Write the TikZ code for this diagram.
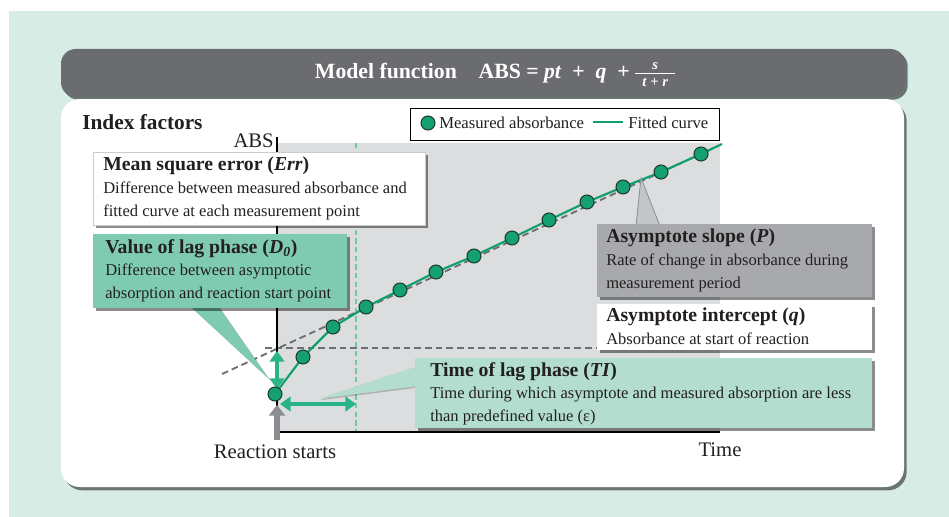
\documentclass[tikz,border=0pt]{standalone}
\usepackage{fontspec}
\setmainfont{Liberation Serif}
\usetikzlibrary{arrows.meta,shadows}
\definecolor{bgmint}{RGB}{214,236,229}
\definecolor{darkbar}{RGB}{107,108,112}
\definecolor{plotgray}{RGB}{220,221,223}
\definecolor{lagc}{RGB}{127,203,178}
\definecolor{tic}{RGB}{178,221,207}
\definecolor{slopec}{RGB}{168,169,172}
\definecolor{tailgray}{RGB}{196,197,200}
\definecolor{fitc}{RGB}{16,160,112}
\definecolor{ptfill}{RGB}{20,160,115}
\definecolor{ptedge}{RGB}{30,58,48}
\definecolor{arrc}{RGB}{40,180,135}
\definecolor{grayarr}{RGB}{140,141,145}
\definecolor{tealdash}{RGB}{110,200,170}
\definecolor{asymc}{RGB}{109,110,113}
\definecolor{txtc}{RGB}{35,31,32}
\newcommand{\bt}[1]{{\fontsize{14.8}{17}\selectfont\bfseries #1}}
\newcommand{\smallfr}[2]{\ensuremath{{\mbox{\fontsize{11}{12}\selectfont\bfseries\itshape #1}\above0.7pt\mbox{\fontsize{11}{12}\selectfont\bfseries #2}}}}
\tikzset{
  txt/.style={text=txtc, inner sep=0pt, align=left, anchor=north west, font=\fontsize{12.4}{17}\selectfont},
  cbox/.style={anchor=north west, inner sep=0pt, drop shadow={shadow xshift=2pt, shadow yshift=-2pt, fill=black, opacity=.45}},
  datapt/.style={circle, draw=ptedge, fill=ptfill, line width=0.8pt, minimum size=10.5pt, inner sep=0pt},
  fitline/.style={draw=fitc, line width=1.6pt},
  garrow/.style={draw=arrc, line width=2.4pt, {Triangle[length=8pt,width=11pt]}-{Triangle[length=8pt,width=11pt]}},
  axlabel/.style={text=txtc, inner sep=0pt, font=\fontsize{15.5}{18}\selectfont}
}
\begin{document}
\begin{tikzpicture}[x=0.75pt,y=-0.75pt]
\useasboundingbox (0,0) rectangle (949,517);
\fill[white] (0,0) rectangle (949,517);
\fill[bgmint] (9,11) rectangle (949,517);
% title bar
\path[fill=darkbar, rounded corners=11pt, drop shadow={shadow xshift=2pt, shadow yshift=-2pt, fill=black, opacity=.5}] (61,49) rectangle (905,97);
\node[text=white, inner sep=0pt, font=\fontsize{16.3}{19}\selectfont\bfseries] (title) at (496,75)
  {Model function\quad ABS = \textit{pt}\enspace+\enspace\textit{q}\enspace+\,\smallfr{\hspace{13pt}s\hspace{13pt}}{\ \textit{t} + \textit{r}\ }};
% white panel
\path[fill=white, rounded corners=14pt, drop shadow={shadow xshift=2pt, shadow yshift=-2.5pt, fill=black, opacity=.5}] (61,99) rectangle (904,487);
\node[text=txtc, inner sep=0pt, anchor=base west, font=\fontsize{16}{19}\selectfont\bfseries] (idx) at (82,129) {Index factors};
% plot area
\fill[plotgray] (277,143) rectangle (720,432);
\draw[tealdash, line width=0.8pt, dash pattern=on 4pt off 2.5pt] (356,143) -- (356,432);
\draw[asymc, line width=1pt, dash pattern=on 5pt off 3pt] (265,348) -- (700,348);
\draw[asymc, line width=1.4pt, dash pattern=on 5pt off 3pt] (222,374) -- (718,146);
% axes
\draw[black, line width=1.3pt] (277,137) -- (277,432) -- (720,432);
\node[axlabel, anchor=base east] (abs) at (274,147) {ABS};
\node[axlabel, anchor=base] (time) at (720,456) {Time};
\node[axlabel, anchor=base] (rs) at (275,458) {Reaction starts};
% fitted curve and points
\foreach \i/\xx/\yy in {1/275/394,2/303/357,3/333/327,4/366/307,5/400/290,6/436/272,7/474/256,8/512/238,9/549/220,10/587/202,11/623/187,12/661/172,13/701/154}
  \coordinate (c\i) at (\xx,\yy);
\coordinate (cend) at (722,144);
\draw[fitline, line join=round] (c1) -- (c2) -- (c3) -- (c4) -- (c5) -- (c6) -- (c7) -- (c8) -- (c9) -- (c10) -- (c11) -- (c12) -- (c13) -- (cend);
% arrows
\coordinate (va1) at (277,389); \coordinate (va2) at (277,351);
\draw[garrow] (va1) -- (va2);
\coordinate (ha1) at (280,404); \coordinate (ha2) at (356,404);
\draw[garrow] (ha1) -- (ha2);
\coordinate (ga1) at (277,440); \coordinate (ga2) at (277,405);
\draw[grayarr, line width=4.5pt, -{Triangle[length=8pt,width=12pt]}] (ga1) -- (ga2);
\foreach \i in {1,...,13} \node[datapt] (p\i) at (c\i) {};
% callout tails
\fill[lagc, drop shadow={shadow xshift=1.5pt, shadow yshift=-1.5pt, fill=black, opacity=.3}] (190,306) -- (268,378) -- (218,306) -- cycle;
\fill[tic, drop shadow={shadow xshift=1pt, shadow yshift=-1pt, fill=black, opacity=.2}] (418,366) -- (318,399) -- (418,386) -- cycle;
\filldraw[fill=tailgray, draw=grayarr, line width=0.6pt] (636,226) -- (641,178) -- (660,226) -- cycle;
% boxes
\node[cbox, fill=white, draw=black!20, line width=0.4pt, minimum width=249pt, minimum height=54.75pt] (mse) at (93,152) {};
\node[txt] (mset) at ([shift={(10,5)}]mse.north west) {\bt{Mean square error (\textit{Err})}\\Difference between measured absorbance and\\fitted curve at each measurement point};
\node[cbox, fill=lagc, minimum width=190.5pt, minimum height=55.5pt] (lag) at (93,234) {};
\node[txt] (lagt) at ([shift={(12,5)}]lag.north west) {\bt{Value of lag phase (\textit{D}\textsubscript{\textit{0}})}\\Difference between asymptotic\\absorption and reaction start point};
\node[cbox, fill=slopec, minimum width=206.25pt, minimum height=54.75pt] (slope) at (597,224) {};
\node[txt] (slopet) at ([shift={(9,5)}]slope.north west) {\bt{Asymptote slope (\textit{P})}\\Rate of change in absorbance during\\measurement period};
\node[cbox, fill=white, minimum width=206.25pt, minimum height=34.5pt] (icpt) at (597,304) {};
\node[txt] (icptt) at ([shift={(9,4)}]icpt.north west) {\bt{Asymptote intercept (\textit{q})}\\Absorbance at start of reaction};
\node[cbox, fill=tic, minimum width=342.75pt, minimum height=52.5pt] (ti) at (415,358) {};
\node[txt] (tit) at ([shift={(15,4)}]ti.north west) {\bt{Time of lag phase (\textit{TI})}\\Time during which asymptote and measured absorption are less\\than predefined value (ε)};
% legend
\node[anchor=north west, draw=black, line width=0.6pt, fill=white, minimum width=231.75pt, minimum height=24pt, inner sep=0pt] (legend) at (410,108) {};
\node[datapt] (legpt) at (428,123) {};
\node[txt, anchor=west, font=\fontsize{12.5}{15}\selectfont] (legt1) at (439,123) {Measured absorbance};
\coordinate (lg1) at (593,122); \coordinate (lg2) at (623,122);
\draw[fitline] (lg1) -- (lg2);
\node[txt, anchor=west, font=\fontsize{12.5}{15}\selectfont] (legt2) at (628,123) {Fitted curve};
\end{tikzpicture}
\end{document}
